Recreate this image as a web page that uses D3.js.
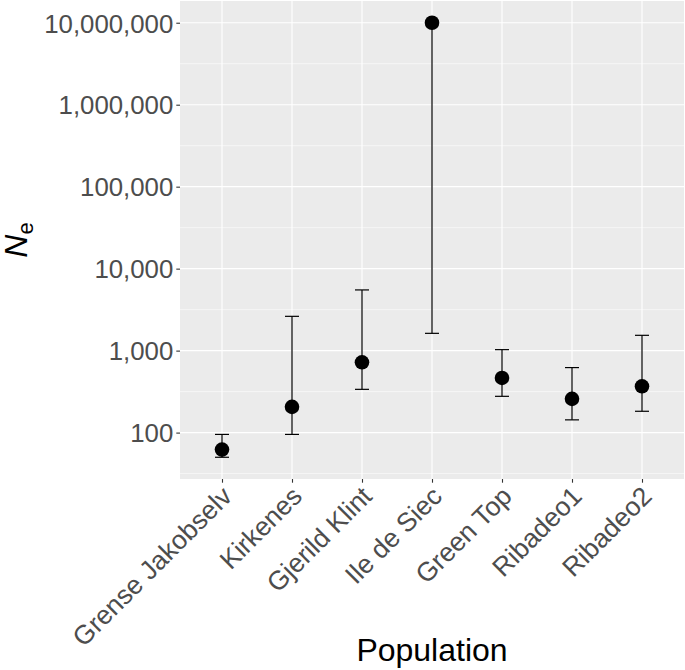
<!DOCTYPE html>
<html><head><meta charset="utf-8">
<script src="https://cdn.jsdelivr.net/npm/d3@7"></script>
<style>body{margin:0;background:#fff;} text{font-family:"Liberation Sans",Arial,sans-serif;}</style>
</head><body><svg id="c" width="685" height="670"></svg>
<script>
const populations = ["Grense Jakobselv","Kirkenes","Gjerild Klint","Ile de Siec","Green Top","Ribadeo1","Ribadeo2"];
const neEstimate = [62, 206, 720, 10000000, 464, 258, 367];
const ciLower = [50, 95, 337, 1625, 277, 143, 182];
const ciUpper = [95, 2620, 5500, 10000000, 1028, 621, 1537];
const yTicks = [100, 1000, 10000, 100000, 1000000, 10000000];
const yMinor = [Math.sqrt(10)*10, Math.sqrt(10)*100, Math.sqrt(10)*1000, Math.sqrt(10)*1e4, Math.sqrt(10)*1e5, Math.sqrt(10)*1e6];

const svg = d3.select("#c");
const L = 180, R = 684, T = 1, B = 479;
const lo = d3.min(ciLower), hi = d3.max(ciUpper);
const lmin = Math.log10(lo), lmax = Math.log10(hi), pad = (lmax - lmin) * 0.05;
const y = d3.scaleLog().domain([Math.pow(10, lmin - pad), Math.pow(10, lmax + pad)]).range([B, T]);
const x = d3.scalePoint().domain(populations).range([L, R]).padding(0.6);

svg.append("rect").attr("x", L).attr("y", T).attr("width", R - L).attr("height", B - T).attr("fill", "#EBEBEB");
const g = svg.append("g");
g.selectAll(".ymin").data(yMinor).join("line").attr("x1", L).attr("x2", R)
  .attr("y1", d => y(d)).attr("y2", d => y(d)).attr("stroke", "#fff").attr("stroke-width", 0.55);
g.selectAll(".ymaj").data(yTicks).join("line").attr("x1", L).attr("x2", R)
  .attr("y1", d => y(d)).attr("y2", d => y(d)).attr("stroke", "#fff").attr("stroke-width", 1.1);
g.selectAll(".xmaj").data(populations).join("line").attr("x1", d => x(d)).attr("x2", d => x(d))
  .attr("y1", T).attr("y2", B).attr("stroke", "#fff").attr("stroke-width", 1.1);

// y axis
const fmt = d3.format(",");
const yAxis = svg.append("g").attr("transform", `translate(${L},0)`)
  .call(d3.axisLeft(y).tickValues(yTicks).tickFormat(fmt).tickSize(3.7).tickPadding(3));
yAxis.select(".domain").remove();
yAxis.selectAll(".tick line").attr("stroke", "#333").attr("stroke-width", 1.1);
yAxis.selectAll(".tick text").attr("fill", "#4D4D4D").attr("font-size", 25.8).attr("dy", "0.36em");

// x axis
const xAxis = svg.append("g").attr("transform", `translate(0,${B})`)
  .call(d3.axisBottom(x).tickSize(3.7).tickPadding(3));
xAxis.select(".domain").remove();
xAxis.selectAll(".tick line").attr("stroke", "#333").attr("stroke-width", 1.1);
xAxis.selectAll(".tick text").attr("fill", "#4D4D4D").attr("font-size", 26.5)
  .attr("text-anchor", "end").attr("x", -5.6).attr("y", 21.2).attr("dy", 0)
  .attr("transform", "rotate(-45)");

// error bars
const data = populations.map((p, i) => ({p, est: neEstimate[i], lo: ciLower[i], hi: ciUpper[i]}));
const cw = 7;
const eb = svg.append("g").attr("stroke", "#000").attr("stroke-width", 1.2);
eb.selectAll(".v").data(data).join("line").attr("x1", d => x(d.p)).attr("x2", d => x(d.p))
  .attr("y1", d => y(d.lo)).attr("y2", d => y(d.hi));
eb.selectAll(".cl").data(data).join("line").attr("x1", d => x(d.p) - cw).attr("x2", d => x(d.p) + cw)
  .attr("y1", d => y(d.lo)).attr("y2", d => y(d.lo));
eb.selectAll(".cu").data(data).join("line").attr("x1", d => x(d.p) - cw).attr("x2", d => x(d.p) + cw)
  .attr("y1", d => y(d.hi)).attr("y2", d => y(d.hi));
svg.append("g").selectAll("circle").data(data).join("circle")
  .attr("cx", d => x(d.p)).attr("cy", d => y(d.est)).attr("r", 7.3).attr("fill", "#000");

// titles
svg.append("text").attr("x", (L + R) / 2).attr("y", 661).attr("text-anchor", "middle")
  .attr("font-size", 32).attr("fill", "#000").text("Population");
const yt = svg.append("text").attr("transform", `translate(27,${(T + B) / 2}) rotate(-90)`)
  .attr("text-anchor", "middle").attr("font-size", 32).attr("fill", "#000");
yt.append("tspan").attr("font-style", "italic").text("N");
yt.append("tspan").attr("font-size", 22).attr("dy", 6).text("e");
</script></body></html>
